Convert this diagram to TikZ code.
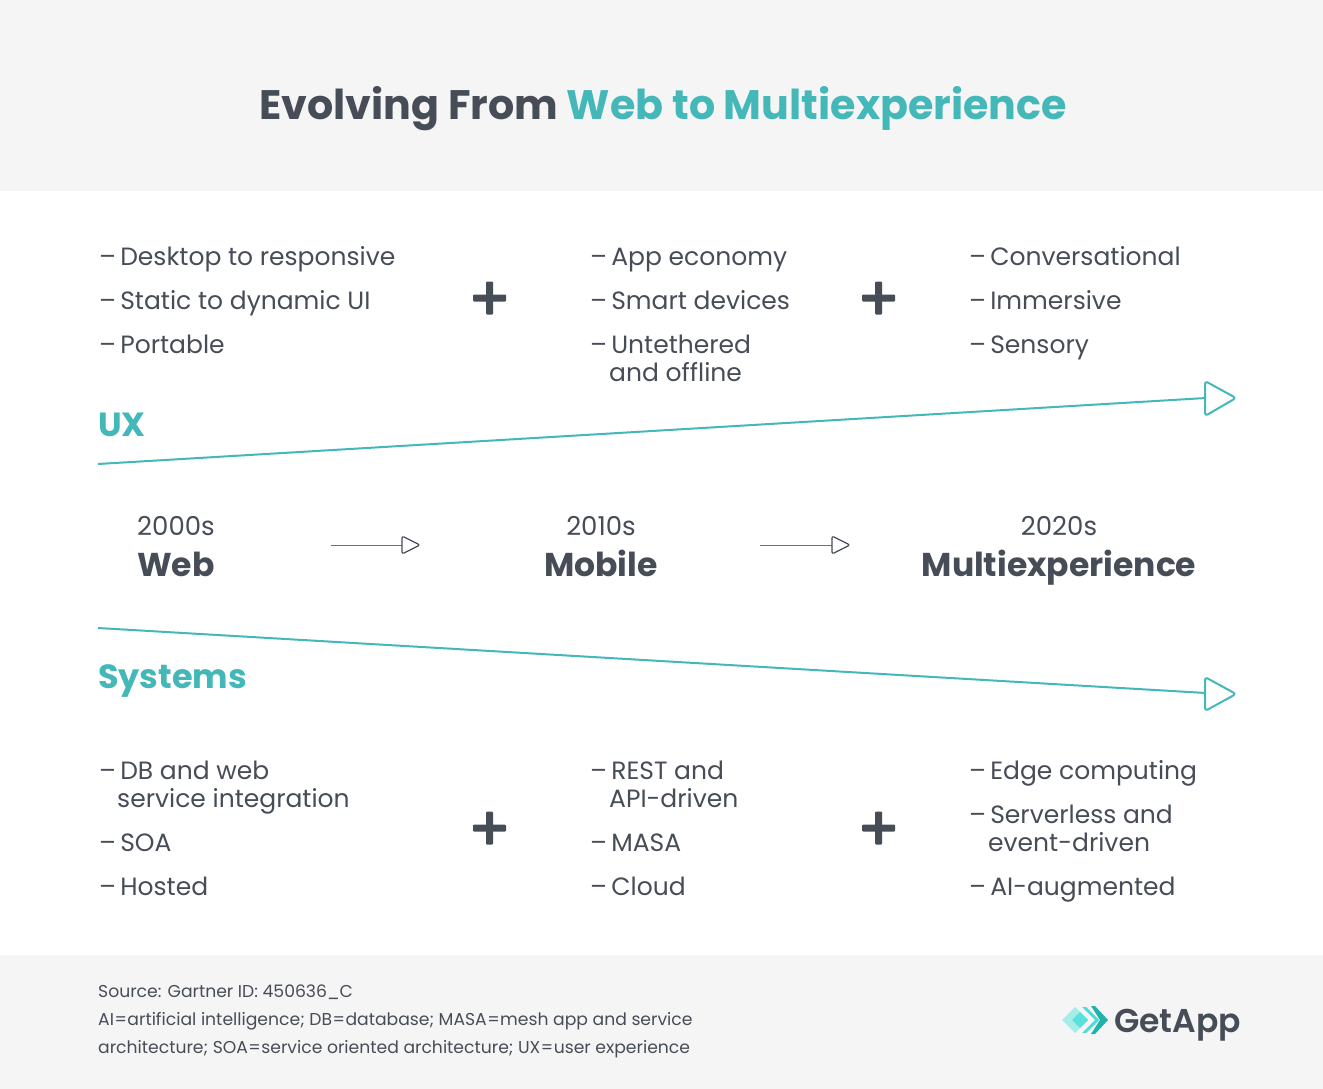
\documentclass[tikz,border=0pt]{standalone}
\usepackage{fontspec}
\setmainfont{Poppins}
\newfontfamily\semi{Poppins SemiBold}
\definecolor{teal1}{HTML}{44B8B8}
\definecolor{dark}{HTML}{474D57}
\definecolor{pale}{HTML}{F5F5F5}
\definecolor{logoa}{HTML}{A5EDE8}
\definecolor{logob}{HTML}{5AE1DC}
\definecolor{logoc}{HTML}{4BDCD7}
\definecolor{logod}{HTML}{1EB4AC}
\newcommand{\eqs}{\kern0.5pt=\kern0.5pt}
\newcommand{\itemdash}{–\kern-2.5pt\ }
\tikzset{x=1pt,y=-1pt,
 item/.style={anchor=base west,text=dark,font=\fontsize{25}{25}\selectfont,inner sep=0pt},
 head/.style={anchor=base,text=dark,font=\fontsize{33}{33}\selectfont\bfseries,inner sep=0pt},
 yr/.style={anchor=base,text=dark,font=\fontsize{26}{26}\selectfont,inner sep=0pt},
 lab/.style={anchor=base west,text=teal1,font=\fontsize{33.5}{33.5}\selectfont\bfseries,inner sep=0pt},
 note/.style={anchor=base west,text=dark,font=\fontsize{17.2}{17.2}\selectfont,inner sep=0pt},
 bigarrow/.style={teal1,line width=2pt,rounded corners=3pt,line join=round},
 smallarrow/.style={dark,line width=1.2pt,rounded corners=2pt,line join=round}}
\begin{document}
\begin{tikzpicture}
\useasboundingbox (0,0) rectangle (1323,1089);
\fill[white] (0,0) rectangle (1323,1089);
\fill[pale] (0,0) rectangle (1323,191);
\fill[pale] (0,955) rectangle (1323,1089);
\node[anchor=base,inner sep=0pt,font=\fontsize{41.2}{41.2}\selectfont\bfseries] (title) at (663,120) {\textcolor{dark}{Evolving From} \textcolor{teal1}{Web to Multiexperience}};
\foreach \n/\x/\y/\t in {a1/99/265/\itemdash Desktop to responsive,a2/99/309/\itemdash Static to dynamic UI,a3/99/353/\itemdash Portable,
 b1/590/265/\itemdash App economy,b2/590/309/\itemdash Smart devices,b3/590/353/\itemdash Untethered,b4/609/381/and offline,
 c1/969/265/\itemdash Conversational,c2/969/309/\itemdash Immersive,c3/969/353/\itemdash Sensory,
 d1/99/779/\itemdash DB and web,d2/117/807/service integration,d3/99/851/\itemdash SOA,d4/99/895/\itemdash Hosted,
 e1/590/779/\itemdash REST and,e2/609/807/API-driven,e3/590/851/\itemdash MASA,e4/590/895/\itemdash Cloud,
 f1/969/779/\itemdash Edge computing,f2/969/823/\itemdash Serverless and,f3/988/851/event-driven,f4/969/895/\itemdash AI-augmented}
 {\node[item] (\n) at (\x,\y) {\t};}
\foreach \n/\x/\y in {p1/489.5/298,p2/878.5/298,p3/489.5/828,p4/878.5/828}{
 \coordinate (\n) at (\x,\y);
 \fill[dark,rounded corners=1pt] (\x-16.5,\y-3.5) rectangle (\x+16.5,\y+3.5);
 \fill[dark,rounded corners=1pt] (\x-3.5,\y-16.5) rectangle (\x+3.5,\y+16.5);}
\node[lab] (ux) at (98,436) {UX};
\node[lab] (sys) at (98,688) {Systems};
\coordinate (ua) at (98,464); \coordinate (ub) at (1206,398);
\coordinate (sa) at (98,628); \coordinate (sb) at (1206,693);
\draw[teal1,line width=2pt] (ua) -- (ub);
\draw[teal1,line width=2pt] (sa) -- (sb);
\draw[bigarrow] (1205,381) -- (1236,398) -- (1205,416) -- cycle;
\draw[bigarrow] (1205,677) -- (1236,694) -- (1205,711) -- cycle;
\node[yr] (y1) at (176,535) {2000s};
\node[yr] (y2) at (601,535) {2010s};
\node[yr] (y3) at (1059,535) {2020s};
\node[head] (h1) at (176,576) {Web};
\node[head] (h2) at (601,576) {Mobile};
\node[head] (h3) at (1059,576) {Multiexperience};
\coordinate (m1) at (331,545); \coordinate (m2) at (402,545);
\coordinate (m3) at (760,545); \coordinate (m4) at (832,545);
\draw[dark!80,line width=1pt] (m1) -- (m2);
\draw[dark!80,line width=1pt] (m3) -- (m4);
\draw[smallarrow] (402,536) -- (420,545) -- (402,554) -- cycle;
\draw[smallarrow] (832,536) -- (850,545) -- (832,554) -- cycle;
\node[note] (n1) at (98,997) {Source: Gartner ID: 450636\_C};
\node[note] (n2) at (98,1025) {AI\eqs artificial intelligence; DB\eqs database; MASA\eqs mesh app and service};
\node[note] (n3) at (98,1053) {architecture; SOA\eqs service oriented architecture; UX\eqs user experience};
% logo mark
\fill[logoa] (1062,1020) -- (1075,1007) -- (1088,1020) -- (1075,1033) -- cycle;
\fill[logob] (1072,1020) -- (1080,1012) -- (1088,1020) -- (1080,1028) -- cycle;
\fill[logoc] (1082,1007) -- (1086,1007) -- (1099,1020) -- (1086,1033) -- (1082,1033) -- (1095,1020) -- cycle;
\fill[logod] (1091,1006) -- (1095,1006) -- (1108,1020) -- (1095,1034) -- (1091,1034) -- (1100,1020) -- cycle;
\node[anchor=base west,inner sep=0pt,text=dark,font=\fontsize{33}{33}\selectfont\semi] (logo) at (1114,1032) {GetApp};
\end{tikzpicture}
\end{document}
